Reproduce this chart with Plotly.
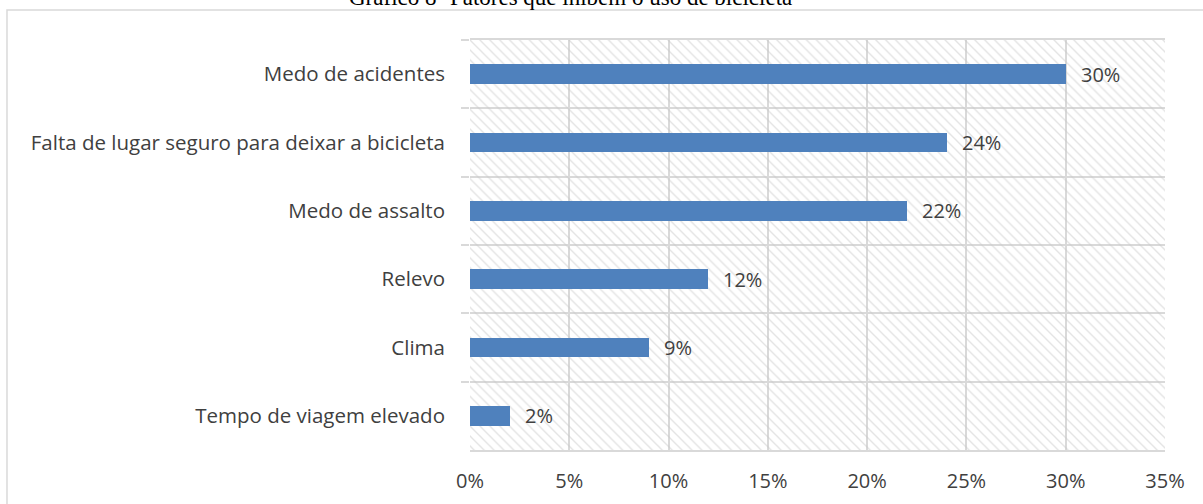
import plotly.graph_objects as go

# Survey results: factors that discourage bicycle use (% of respondents)
categories = [
    "Medo de acidentes",
    "Falta de lugar seguro para deixar a bicicleta",
    "Medo de assalto",
    "Relevo",
    "Clima",
    "Tempo de viagem elevado",
]
values = [30, 24, 22, 12, 9, 2]
x_ticks = [0, 5, 10, 15, 20, 25, 30, 35]
x_tick_labels = [f"{t}%" for t in x_ticks]
title_text = "Gráfico 8- Fatores que inibem o uso de bicicleta"

GRID = "#d9d9d9"
TEXT = "#404040"
BAR = "#4f81bd"
FONT = "Open Sans"
CAT_SIZE = 20.5
NUM_SIZE = 20

fig = go.Figure()

# Hatched plot-area background (drawn on the base axes, underneath the bars)
fig.add_trace(go.Bar(
    x=[0.5], y=[1], width=[1],
    marker=dict(
        color="rgba(0,0,0,0)",
        line=dict(width=0),
        pattern=dict(shape="\\", fgcolor="#c8c8c8", bgcolor="rgba(0,0,0,0)",
                     size=7, solidity=0.2),
    ),
    hoverinfo="skip", showlegend=False,
    xaxis="x", yaxis="y",
))

# The data bars
fig.add_trace(go.Bar(
    x=values, y=categories, orientation="h", width=0.29,
    marker=dict(color=BAR, line=dict(width=0)),
    showlegend=False, xaxis="x2", yaxis="y2",
))

# Value labels next to each bar
for cat, v in zip(categories, values):
    fig.add_annotation(
        x=v, y=cat, xref="x2", yref="y2", text=f"{v}%",
        showarrow=False, xanchor="left", yanchor="middle", xshift=13,
        font=dict(family=FONT, size=NUM_SIZE, color=TEXT),
    )

# Chart title (partly above the page edge)
fig.add_annotation(
    x=0.144, y=1, xref="paper", yref="paper", xanchor="center",
    yanchor="middle", yshift=43,
    text=title_text, showarrow=False,
    font=dict(family="Liberation Serif", size=23, color="black"),
)

# Outer chart border
fig.add_shape(
    type="rect", xref="paper", yref="paper",
    x0=-0.6662, x1=1.07, y0=-0.2, y1=1.0732,
    line=dict(color=GRID, width=1.5), fillcolor="rgba(0,0,0,0)", layer="below",
)

fig.update_layout(
    width=1203, height=504,
    margin=dict(l=470, r=38, t=40, b=54),
    paper_bgcolor="white", plot_bgcolor="white",
    bargap=0,
    font=dict(family=FONT, size=NUM_SIZE, color=TEXT),
    xaxis=dict(range=[0, 1], visible=False, fixedrange=True, automargin=False),
    yaxis=dict(range=[0, 1], visible=False, fixedrange=True, automargin=False),
    xaxis2=dict(
        overlaying="x", anchor="y2", side="bottom", automargin=False,
        range=[0, 35], tickvals=x_ticks, ticktext=x_tick_labels,
        showgrid=True, gridcolor=GRID, gridwidth=1.5,
        zeroline=False, showline=True, mirror=True,
        linecolor=GRID, linewidth=1.5, ticks="",
        ticklabelstandoff=12,
        tickfont=dict(family=FONT, size=NUM_SIZE, color=TEXT),
    ),
    yaxis2=dict(
        overlaying="y", anchor="x2", side="left", automargin=False,
        type="category", categoryorder="array", categoryarray=categories,
        autorange="reversed",
        tickson="boundaries", ticks="outside", ticklen=8,
        tickcolor=GRID, tickwidth=1.5,
        showgrid=True, gridcolor=GRID, gridwidth=1.5,
        zeroline=False, showline=False,
        ticklabelstandoff=24,
        tickfont=dict(family=FONT, size=CAT_SIZE, color=TEXT),
    ),
)

fig.write_html("out.html")
